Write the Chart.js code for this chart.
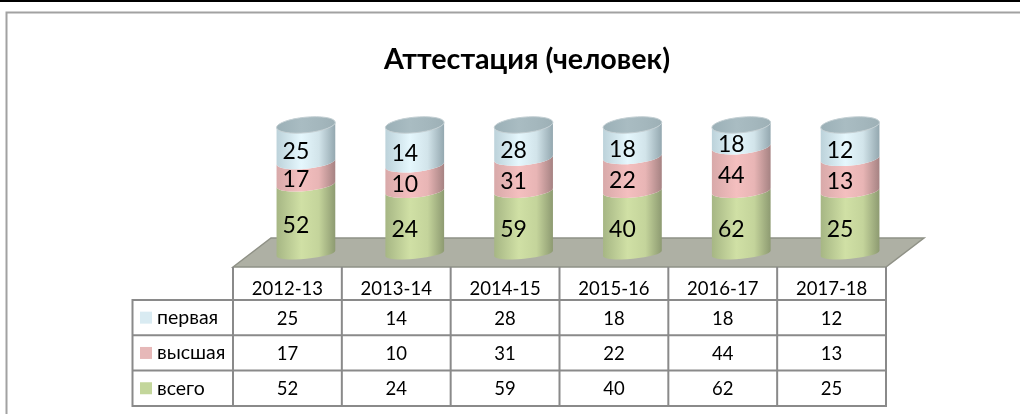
<!DOCTYPE html>
<html lang="ru">
<head>
  <meta charset="UTF-8">
  <title>Аттестация (человек)</title>
  <script src="https://cdn.jsdelivr.net/npm/chart.js"></script>
  <style>
    html, body { margin: 0; padding: 0; background: #fff; overflow: hidden; }
    canvas { display: block; }
  </style>
</head>
<body>
<canvas id="chart" width="1020" height="414"></canvas>
<script>
const titleText = 'Аттестация (человек)';
const categories = ['2012-13', '2013-14', '2014-15', '2015-16', '2016-17', '2017-18'];
const perva = [25, 14, 28, 18, 18, 12];
const vysshaya = [17, 10, 31, 22, 44, 13];
const vsego = [52, 24, 59, 40, 62, 25];

const fontName = 'Lato, "Open Sans", sans-serif';

// every cylinder fills the whole height, so values are shares of the year's sum
const sums = categories.map((c, i) => perva[i] + vysshaya[i] + vsego[i]);
const share = arr => arr.map((v, i) => v / sums[i] * 100);

// table rows top to bottom, swatch colours as in the legend
const rows = [
  { name: 'первая', values: perva, swatch: '#d9ebf2' },
  { name: 'высшая', values: vysshaya, swatch: '#e6b8b8' },
  { name: 'всего', values: vsego, swatch: '#c3d69b' }
];

const shades = {
  green: ['#a6b684', '#d0e0a5', '#c4d49b', '#8d9a71'],
  pink: ['#d8a9a9', '#f4bfbf', '#e8b5b5', '#a58282'],
  blue: ['#bcd2da', '#e5f7fd', '#d2e4ea', '#93a7af']
};

function sideGradient(ctx, x, w, c) {
  const g = ctx.createLinearGradient(x - w / 2, 0, x + w / 2, 0);
  g.addColorStop(0, c[0]);
  g.addColorStop(0.42, c[1]);
  g.addColorStop(0.72, c[2]);
  g.addColorStop(1, c[3]);
  return g;
}

const tilt = -0.095;
const topLift = 3.5; // the lid sits a little above the 100% level

const cylinderPlugin = {
  id: 'cylinder',
  beforeDraw(chart) {
    const ctx = chart.ctx;
    ctx.save();
    ctx.fillStyle = '#000';
    ctx.fillRect(0, 0, 1020, 2);
    ctx.strokeStyle = '#a2a2a2';
    ctx.lineWidth = 2;
    ctx.beginPath();
    ctx.moveTo(1020, 12.5);
    ctx.lineTo(6.5, 12.5);
    ctx.lineTo(6.5, 414);
    ctx.stroke();
    ctx.restore();
  },
  afterDatasetsDraw(chart) {
    const ctx = chart.ctx;
    const xs = chart.scales.x;
    const ys = chart.scales.y;
    const colW = xs.getPixelForValue(1) - xs.getPixelForValue(0);
    const tableLeft = chart.chartArea.left - 18.5;
    const tableRight = tableLeft + colW * categories.length;
    const floorFront = 267, floorBack = 238, floorShift = 38;
    const headBottom = 300, rowH = 35.3;

    ctx.save();
    // floor
    ctx.beginPath();
    ctx.moveTo(tableLeft, floorFront);
    ctx.lineTo(tableLeft + floorShift, floorBack);
    ctx.lineTo(tableRight + floorShift, floorBack);
    ctx.lineTo(tableRight, floorFront);
    ctx.closePath();
    ctx.fillStyle = '#aeb0a4';
    ctx.fill();
    ctx.strokeStyle = '#8f9186';
    ctx.lineWidth = 1.5;
    ctx.stroke();

    // cylinders, bottom segment first
    const y0 = ys.getPixelForValue(0);
    const topY = ys.getPixelForValue(100);
    const ryAt = y => 5.3 + 2.4 * (y0 - y) / (y0 - topY);
    chart.data.datasets.forEach((ds, d) => {
      chart.getDatasetMeta(d).data.forEach(bar => {
        const p = bar.getProps(['x', 'y', 'base', 'width']);
        const upper = d === chart.data.datasets.length - 1 ? p.y - topLift : p.y;
        ctx.beginPath();
        ctx.ellipse(p.x, p.base, p.width / 2, ryAt(p.base), tilt, Math.PI, 0, true);
        ctx.ellipse(p.x, upper, p.width / 2, ryAt(upper), tilt, 0, Math.PI, false);
        ctx.closePath();
        ctx.fillStyle = sideGradient(ctx, p.x, p.width, ds.shades);
        ctx.fill();
      });
    });
    // cylinder tops
    chart.getDatasetMeta(0).data.forEach(bar => {
      const w = bar.width;
      const lid = topY - topLift;
      ctx.beginPath();
      ctx.ellipse(bar.x, lid, w / 2, ryAt(lid), tilt, 0, Math.PI * 2);
      ctx.fillStyle = sideGradient(ctx, bar.x, w, ['#9bb0b7', '#a9bcc2', '#a4b7bd', '#9db0b6']);
      ctx.fill();
      ctx.strokeStyle = '#c3cfd3';
      ctx.lineWidth = 1;
      ctx.stroke();
    });

    // value labels on the cylinders
    ctx.fillStyle = '#000';
    ctx.textAlign = 'center';
    ctx.textBaseline = 'middle';
    ctx.font = '23px ' + fontName;
    chart.data.datasets.forEach((ds, d) => {
      chart.getDatasetMeta(d).data.forEach((bar, i) => {
        const p = bar.getProps(['x', 'y', 'base']);
        ctx.fillText(ds.rawValues[i], p.x - 10, (p.y + p.base) / 2 + 7);
      });
    });

    // data table
    const rowsTop = headBottom;
    const bottom = rowsTop + rowH * rows.length;
    const legendLeft = 132.5;
    ctx.strokeStyle = '#8a8a8a';
    ctx.lineWidth = 2;
    ctx.beginPath();
    for (let i = 0; i <= categories.length; i++) {
      const x = tableLeft + colW * i;
      ctx.moveTo(x, floorFront);
      ctx.lineTo(x, bottom);
    }
    ctx.moveTo(legendLeft, rowsTop);
    ctx.lineTo(legendLeft, bottom);
    for (let r = 0; r <= rows.length; r++) {
      const y = rowsTop + rowH * r;
      ctx.moveTo(legendLeft - 1, y);
      ctx.lineTo(tableRight + 1, y);
    }
    ctx.stroke();

    ctx.font = '18.5px ' + fontName;
    ctx.fillStyle = '#000';
    categories.forEach((c, i) => {
      ctx.fillText(c, tableLeft + colW * (i + 0.5), floorFront + 22);
    });
    rows.forEach((row, r) => {
      const y = rowsTop + rowH * (r + 0.5);
      row.values.forEach((v, i) => {
        ctx.fillText(v, tableLeft + colW * (i + 0.5), y + 1);
      });
      ctx.fillStyle = row.swatch;
      ctx.fillRect(140, y - 6, 12, 12);
      ctx.fillStyle = '#000';
      ctx.textAlign = 'left';
      ctx.font = '19.5px ' + fontName;
      ctx.fillText(row.name, 157, y);
      ctx.font = '18.5px ' + fontName;
      ctx.textAlign = 'center';
    });
    ctx.restore();
  }
};

new Chart(document.getElementById('chart'), {
  type: 'bar',
  data: {
    labels: categories,
    datasets: [
      { label: 'всего', data: share(vsego), rawValues: vsego, shades: shades.green, backgroundColor: 'transparent' },
      { label: 'высшая', data: share(vysshaya), rawValues: vysshaya, shades: shades.pink, backgroundColor: 'transparent' },
      { label: 'первая', data: share(perva), rawValues: perva, shades: shades.blue, backgroundColor: 'transparent' }
    ]
  },
  options: {
    responsive: false,
    animation: false,
    layout: { padding: { left: 149.5, right: 115.5, top: 43, bottom: 160.5 } },
    datasets: { bar: { barPercentage: 1, categoryPercentage: 0.542 } },
    plugins: {
      legend: { display: false },
      tooltip: { enabled: false },
      title: {
        display: true,
        text: titleText,
        color: '#000',
        font: { family: fontName, size: 28.7, weight: 'bold', lineHeight: 1.2 },
        padding: { top: 0, bottom: 51 }
      }
    },
    scales: {
      x: { stacked: true, display: false },
      y: {
        stacked: true,
        min: 0,
        max: 100,
        grid: { display: false },
        border: { display: false },
        ticks: { display: false },
        afterFit(s) { s.width = 102; }
      }
    }
  },
  plugins: [cylinderPlugin]
});
</script>
</body>
</html>
